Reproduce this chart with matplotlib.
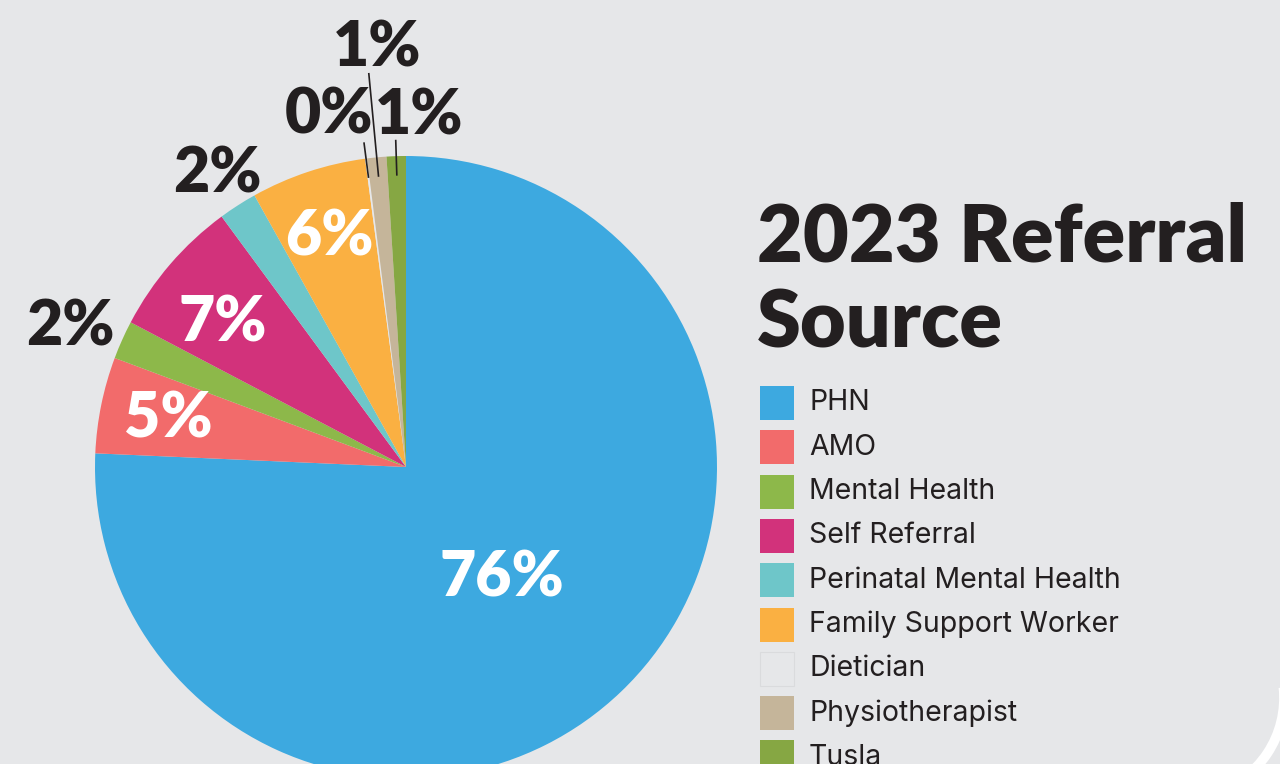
import numpy as np
import matplotlib.pyplot as plt
from matplotlib.patches import Rectangle, Arc

# 2023 referral sources, share of referrals (%)
sources = ["PHN", "AMO", "Mental Health", "Self Referral", "Perinatal Mental Health",
           "Family Support Worker", "Dietician", "Physiotherapist", "Tusla"]
shares = [75.7, 5.0, 2.0, 7.2, 2.0, 6.0, 0.1, 1.0, 1.0]
pct_labels = ["76%", "5%", "2%", "7%", "2%", "6%", "0%", "1%", "1%"]
colors = ["#3DA9E0", "#F26B6B", "#8DB84A", "#D2327B", "#6EC6C9",
          "#FAB042", "#E6E7E9", "#C5B59A", "#86A743"]

# label placement: (radius, angle nudge in deg, inside?, leader line end radius)
label_pos = [(0.47, -3, True, None), (0.78, 0, True, None), (1.17, 1.5, False, None),
             (0.75, 2.5, True, None), (1.12, 0, False, None), (0.78, 0, True, None),
             (1.16, 5, False, 1.05), (1.35, -1.5, False, 1.27), (1.13, -4, False, 1.05)]

BG = "#E6E7E9"
INK = "#231F20"
FONT = "Lato"

W, H = 1280, 764
fig = plt.figure(figsize=(W / 100, H / 100), dpi=100, facecolor=BG)

# pie centre (406, 467) px from top-left, radius 311 px
cx, cy, r = 406, 467, 311
ax = fig.add_axes([(cx - r) / W, (H - cy - r) / H, 2 * r / W, 2 * r / H])
wedges, _ = ax.pie(shares, colors=colors, startangle=90, counterclock=False,
                   radius=1, wedgeprops=dict(linewidth=0))
ax.set_xlim(-1, 1)
ax.set_ylim(-1, 1)
ax.set_aspect("equal")
ax.axis("off")

for w, lab, (rad, nudge, inside, lead) in zip(wedges, pct_labels, label_pos):
    mid = np.deg2rad((w.theta1 + w.theta2) / 2)
    ang = mid + np.deg2rad(nudge)
    x, y = rad * np.cos(ang), rad * np.sin(ang)
    ax.text(x, y, lab, ha="center", va="center", fontsize=45, fontweight="heavy",
            family=FONT, color="white" if inside else INK, clip_on=False)
    if lead is not None:
        ax.plot([0.94 * np.cos(mid), lead * np.cos(mid)],
                [0.94 * np.sin(mid), lead * np.sin(mid)],
                color=INK, lw=1.2, clip_on=False)

# title
fig.text(757 / W, 1 - 262 / H, "2023 Referral", fontsize=57, fontweight="heavy",
         family=FONT, color=INK, ha="left", va="baseline")
fig.text(757 / W, 1 - 347 / H, "Source", fontsize=57, fontweight="heavy",
         family=FONT, color=INK, ha="left", va="baseline")

# legend
top, step, box = 403, 44.3, 34
for i, (name, col) in enumerate(zip(sources, colors)):
    yc = top + i * step
    fig.patches.append(Rectangle((760 / W, 1 - (yc + box / 2) / H), box / W, box / H,
                                 transform=fig.transFigure, facecolor=col,
                                 edgecolor="#DADBDD" if col == BG else "none", lw=0.8))
    fig.text(809 / W, 1 - yc / H, name, fontsize=20.5, family="Inter", color=INK,
             ha="left", va="center")

# rounded white corner of the panel
fig.patches.append(Arc((1184 / W, 1 - 698 / H), 200 / W, 200 / H, theta1=-80, theta2=10,
                       transform=fig.transFigure, color="white", lw=7))

fig.savefig("out.png", dpi=100, facecolor=BG)
